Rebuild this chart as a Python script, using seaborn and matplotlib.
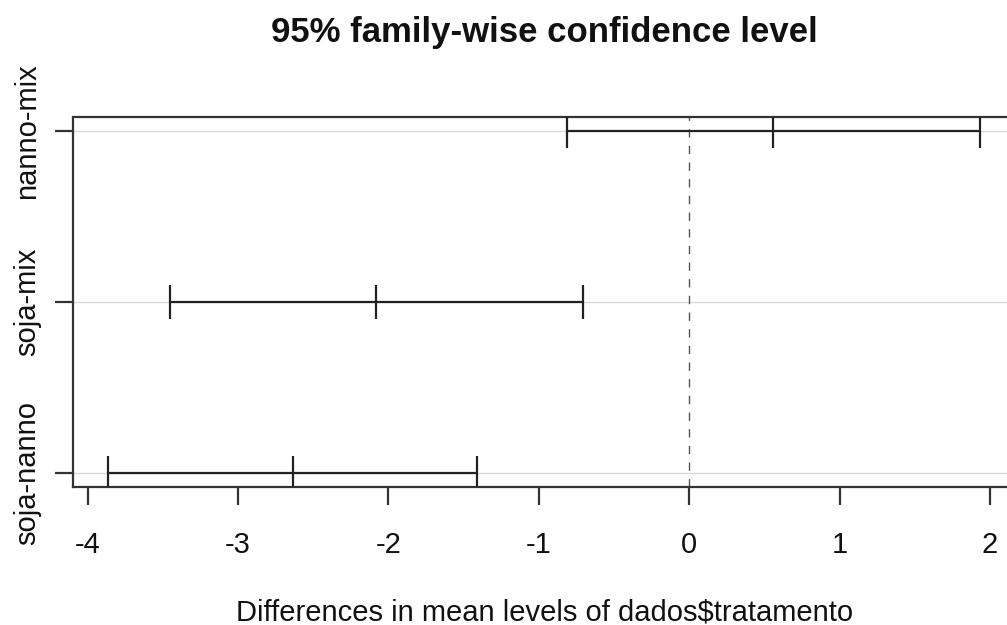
import matplotlib
matplotlib.use("Agg")
import matplotlib.pyplot as plt
import seaborn as sns
import pandas as pd

# Tukey HSD comparisons for dados$tratamento
comparisons = ["nanno-mix", "soja-mix", "soja-nanno"]
diff = [0.559, -2.080, -2.637]
lwr = [-0.815, -3.451, -3.863]
upr = [1.933, -0.705, -1.410]
xticks = [-4, -3, -2, -1, 0, 1, 2]

df = pd.DataFrame({"comparison": comparisons, "diff": diff, "lwr": lwr, "upr": upr})
df["y"] = list(range(len(df), 0, -1))

sns.set_theme(style="ticks")
plt.rcParams["font.family"] = ["Liberation Sans", "DejaVu Sans"]

W, H = 1007, 625
fig = plt.figure(figsize=(W / 100, H / 100), dpi=100)

# R-style 4% padding around the data range
xmin, xmax = min(lwr), max(upr)
xpad = 0.04 * (xmax - xmin)
ymin, ymax = df["y"].min(), df["y"].max()
ypad = 0.04 * (ymax - ymin)
xlim = (xmin - xpad, xmax + xpad)
ylim = (ymin - ypad, ymax + ypad)

# axes placed in pixel units; the right edge of the box runs past the figure
left_px, right_px = 73.4, 1014.9
top_px, bottom_px = 117.5, 486.8
ax = fig.add_axes([left_px / W, 1 - bottom_px / H,
                   (right_px - left_px) / W, (bottom_px - top_px) / H])
ax.set_xlim(*xlim)
ax.set_ylim(*ylim)

line_col = "#222222"
ax.hlines(df["y"], *xlim, colors="#d9d9d9", lw=1.0, zorder=1)
ax.axvline(0, color="#555555", lw=1.0, ls=(0, (6, 6)), zorder=1)
ax.hlines(df["y"], df["lwr"], df["upr"], colors=line_col, lw=1.6, zorder=3)
for col in ["lwr", "diff", "upr"]:
    ax.vlines(df[col], df["y"] - 0.1, df["y"] + 0.1, colors=line_col, lw=1.6, zorder=3)

for s in ax.spines.values():
    s.set_color("#333333")
    s.set_linewidth(1.6)

ax.set_xticks(xticks)
ax.set_xticklabels([str(t) for t in xticks])
ax.set_yticks(df["y"])
ax.set_yticklabels(df["comparison"], rotation=90, va="center")
ax.tick_params(axis="both", length=13, width=1.6, color="#333333",
               labelsize=21, labelcolor="#111111")
ax.tick_params(axis="x", pad=18.5)
ax.tick_params(axis="y", pad=10.5)

ax.set_xlabel("Differences in mean levels of dados$tratamento", fontsize=21,
              color="#111111", labelpad=29)
fig.text(544 / W, 1 - 42 / H, "95% family-wise confidence level", fontsize=25,
         fontweight="bold", ha="center", va="baseline", color="#111111")

fig.savefig("out.png", dpi=100)
